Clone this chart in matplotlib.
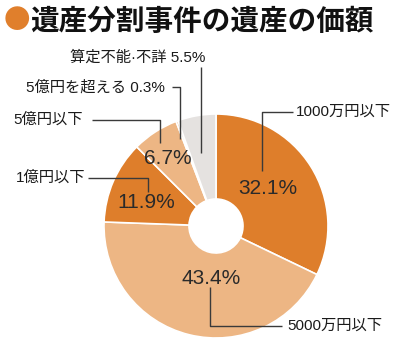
import matplotlib
matplotlib.use("Agg")
import matplotlib.pyplot as plt

plt.rcParams["font.family"] = ["Noto Sans CJK JP", "DejaVu Sans"]

# 遺産分割事件の遺産の価額 (割合 %)
categories = ["1000万円以下", "5000万円以下", "1億円以下", "5億円以下", "5億円を超える", "算定不能·不詳"]
shares = [32.1, 43.4, 11.9, 6.7, 0.3, 5.5]
colors = ["#DE7E2B", "#EDB684", "#DE7E2B", "#EDB684", "#EDB684", "#E5E2E0"]

H = 345
fig = plt.figure(figsize=(4.0, 3.45), dpi=100)
ax = fig.add_axes([0, 0, 1, 1])

cx, cy, r, hole = 216, H - 226, 112, 27
wedges, _ = ax.pie(shares, colors=colors, startangle=90, counterclock=False,
                   center=(cx, cy), radius=r, frame=True,
                   wedgeprops=dict(width=r - hole, edgecolor="white", linewidth=1.2))
ax.set_xlim(0, 400)
ax.set_ylim(0, H)
ax.axis("off")

# タイトル
ax.text(4, H - 21, "●", color="#E07F2C", fontsize=19, va="center", ha="left")
ax.text(30, H - 21, "遺産分割事件の遺産の価額", color="#111111", fontsize=20.6,
        fontweight="bold", va="center", ha="left")

# 割合ラベル
latin = ["Liberation Sans", "Noto Sans CJK JP"]
pct_pos = [(268, 188), (211, 278), (146, 203), (168, 158)]
for (px, py), v in zip(pct_pos, shares[:4]):
    ax.text(px, H - py, f"{v}%", fontsize=15, color="#2a2a2a", ha="center", va="center",
            family=latin)

lc = "#3a3a3a"
lw = 1.0
fs = 11

def label(x, y, s):
    ax.text(x, H - y, s, fontsize=fs, ha="left", va="center", color="#1a1a1a", family=latin)

def leader(xs, ys):
    ax.plot(xs, [H - y for y in ys], color=lc, lw=lw, solid_capstyle="butt")

# 1000万円以下
label(296, 112, categories[0])
leader([293, 262, 262], [112, 112, 171])
# 5000万円以下
label(287, 326, categories[1])
leader([282, 210, 210], [326, 326, 287])
# 1億円以下
label(16, 178, categories[2])
leader([88, 148, 148], [178, 178, 192])
# 5億円以下
label(13, 120, categories[3])
leader([92, 160, 160], [120, 120, 143])
# 5億円を超える
label(26, 87, f"{categories[4]} {shares[4]}%")
leader([172, 180, 180], [87, 87, 139])
# 算定不能·不詳
label(70, 58, f"{categories[5]} {shares[5]}%")
leader([201, 201], [67, 153])

fig.savefig("out.png", dpi=100, facecolor="white")
